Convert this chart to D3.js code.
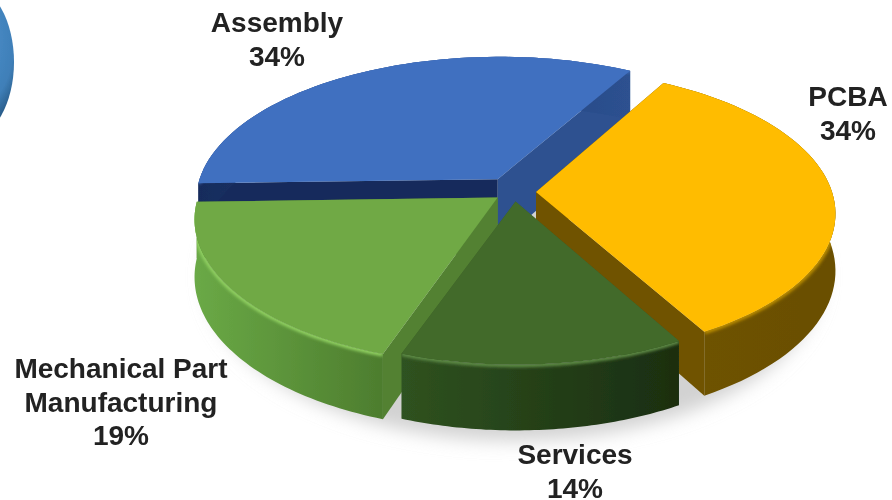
<!DOCTYPE html>
<html>
<head>
<meta charset="utf-8">
<script src="https://cdn.jsdelivr.net/npm/d3@7/dist/d3.min.js"></script>
<style>
  html, body { margin: 0; padding: 0; background: #fff; }
  svg { display: block; }
  text { font-family: "Liberation Sans", Arial, sans-serif; font-weight: bold; fill: #222; font-size: 28px; }
</style>
</head>
<body>
<svg width="892" height="500"></svg>
<script>
// Data
var categories = ["Assembly", "PCBA", "Services", "Mechanical Part Manufacturing"];
var shares = [34, 34, 14, 19];
var labelLines = [["Assembly", "34%"], ["PCBA", "34%"], ["Services", "14%"], ["Mechanical Part", "Manufacturing", "19%"]];

// colours for each slice, same order as categories
var topColors = ["#4170c0", "#ffbc00", "#436a2c", "#6fa945"];
var startFace = ["#182c5c", "#6f5300", "#3a5c26", "#538133"];
var endFace = ["#2d5190", "#6f5300", "#3a5c26", "#538133"];
var rimStops = [
  ["#182c5c", "#2d5190"],
  ["#6f5300", "#6a4f00"],
  ["#2f5220", "#1a2e10"],
  ["#6aa946", "#4d7d2e"]
];
var bevelColors = ["#4170c0", "#b98c00", "#5d8a45", "#8fcf60"];

var svg = d3.select("svg");
var defs = svg.append("defs");
function blur(id, dev) {
  defs.append("filter").attr("id", id).attr("x", "-20%").attr("y", "-20%").attr("width", "140%").attr("height", "140%")
    .append("feGaussianBlur").attr("stdDeviation", dev);
}
blur("soft", 9);
blur("edge", 1.6);
blur("scan", 0.45);

var root = svg.append("g").attr("filter", "url(#scan)");

// perspective view of the flat disc
var cx = 514, cy = 192, tilt = 0.475, dist = 2100, depth = 56;
var radius = [302, 296, 290, 298];
var explode = [32, 22, 20, 20];
// small corrections of the slice edges, in degrees
var startTrim = [0, 0, 0, -1.7];
var endTrim = [0, 0, 0.8, 0];
var faceExtra = [10, 0, 0, 0];

function project(x, y, z) {
  var s = dist / (dist - y);
  return [cx + x * s, cy + (tilt * y + z) * s];
}

// start at the Assembly/PCBA boundary, go clockwise
var startDeg = 29.5;
var firstAngle = startDeg * Math.PI / 180 - (shares[0] / d3.sum(shares)) * 2 * Math.PI;
var pie = d3.pie().sort(null).startAngle(firstAngle).endAngle(firstAngle + 2 * Math.PI);
var arcs = pie(shares);

var line = d3.line();

function slicePoint(d, i, r, a, z) {
  var mid = (d.startAngle + d.endAngle) / 2;
  var ox = explode[i] * Math.sin(mid), oy = -explode[i] * Math.cos(mid);
  return project(ox + r * Math.sin(a), oy - r * Math.cos(a), z);
}

function rimAngles(d, i) {
  var n = 60;
  var a0 = d.startAngle + startTrim[i] * Math.PI / 180;
  var a1 = d.endAngle - endTrim[i] * Math.PI / 180;
  return d3.range(n + 1).map(function (k) { return a0 + (a1 - a0) * k / n; });
}

// ground shadow
var shadowPts = d3.range(0, 2 * Math.PI, 0.05).map(function (a) {
  return project(304 * Math.sin(a), 318 * -Math.cos(a), depth + 4);
});
root.append("path").attr("d", line(shadowPts) + "Z").attr("fill", "#d2d2d2").attr("filter", "url(#soft)");

// rim gradients
arcs.forEach(function (d, i) {
  var g = defs.append("linearGradient").attr("id", "rim" + i).attr("gradientUnits", "userSpaceOnUse");
  var xs = rimAngles(d, i).map(function (a) { return slicePoint(d, i, radius[i], a, 0)[0]; });
  g.attr("x1", d3.min(xs)).attr("x2", d3.max(xs)).attr("y1", 0).attr("y2", 0);
  g.append("stop").attr("offset", 0).attr("stop-color", rimStops[i][0]);
  g.append("stop").attr("offset", 1).attr("stop-color", rimStops[i][1]);
});

// painter's order, back slices first
var order = [0, 1, 3, 2];
order.forEach(function (i) {
  var d = arcs[i], R = radius[i];
  var g = root.append("g").attr("class", "slice");
  var angles = rimAngles(d, i);

  // radial faces
  [[angles[0], startFace[i], 0], [angles[angles.length - 1], endFace[i], faceExtra[i]]].forEach(function (f) {
    g.append("path")
      .attr("d", line([
        slicePoint(d, i, 0, f[0], 0),
        slicePoint(d, i, R, f[0], 0),
        slicePoint(d, i, R, f[0], depth + f[2]),
        slicePoint(d, i, 0, f[0], depth + f[2])
      ]) + "Z")
      .attr("fill", f[1]);
  });

  // outer rim
  var rimTop = angles.map(function (a) { return slicePoint(d, i, R, a, 0); });
  var rimBottom = angles.map(function (a) { return slicePoint(d, i, R, a, depth); }).reverse();
  var rimPath = line(rimTop.concat(rimBottom)) + "Z";
  g.append("path").attr("d", rimPath).attr("fill", "url(#rim" + i + ")");
  defs.append("clipPath").attr("id", "rimClip" + i).append("path").attr("d", rimPath);

  // soft bevel on the top edge, kept inside the rim
  g.append("g").attr("clip-path", "url(#rimClip" + i + ")")
    .append("path").attr("d", line(rimTop)).attr("fill", "none")
    .attr("stroke", bevelColors[i]).attr("stroke-width", 5).attr("filter", "url(#edge)");

  // top
  var topPts = [slicePoint(d, i, 0, 0, 0)].concat(rimTop);
  g.append("path").attr("d", line(topPts) + "Z").attr("fill", topColors[i]);
});

// labels
var labelX = [277, 848, 575, 121];
var labelY = [32, 106, 464, 378];
labelLines.forEach(function (lines, i) {
  var t = root.append("text").attr("text-anchor", "middle");
  lines.forEach(function (s, k) {
    t.append("tspan").attr("x", labelX[i]).attr("y", labelY[i] + k * 33.5).text(s);
  });
});

// piece of the neighbouring chart, cut by the left edge
var ball = defs.append("radialGradient").attr("id", "ball").attr("cx", 0.55).attr("cy", 0.35).attr("r", 0.65);
ball.append("stop").attr("offset", 0).attr("stop-color", "#4f93cf");
ball.append("stop").attr("offset", 0.7).attr("stop-color", "#3f7fb8");
ball.append("stop").attr("offset", 1).attr("stop-color", "#1d4a72");
root.append("ellipse").attr("cx", -30).attr("cy", 62).attr("rx", 44).attr("ry", 76).attr("fill", "url(#ball)");
</script>
</body>
</html>
